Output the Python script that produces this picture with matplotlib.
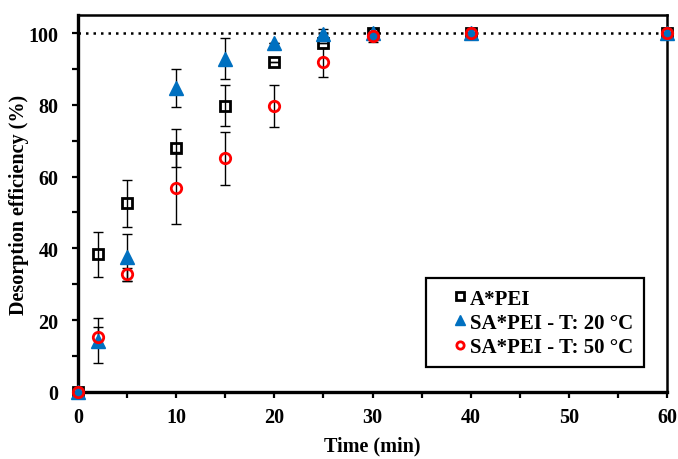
import numpy as np
import matplotlib
matplotlib.use('Agg')
from matplotlib import pyplot as plt
from matplotlib.ticker import MultipleLocator

time = [0, 2, 5, 10, 15, 20, 25, 30, 40, 60]

a_pei = [0, 38.3, 52.5, 68.0, 79.8, 91.8, 97.1, 100, 100, 100]
a_pei_err = [0, 6.2, 6.5, 5.3, 5.7, 0, 0, 0, 0, 0]

sa_20 = [0, 14.3, 37.5, 84.6, 92.9, 97.1, 99.6, 100, 100, 100]
sa_20_err = [0, 6.3, 6.5, 5.3, 5.7, 0, 1.5, 0, 0, 0]

sa_50 = [0, 15.4, 32.8, 56.9, 65.1, 79.6, 91.8, 99.3, 100, 100]
sa_50_err = [0, 2.6, 1.8, 10.0, 7.4, 5.8, 4.0, 1.8, 0, 0]

labels = ['A*PEI', 'SA*PEI - T: 20 °C', 'SA*PEI - T: 50 °C']

plt.rcParams['font.family'] = 'Liberation Serif'
plt.rcParams['font.weight'] = 'bold'
fs = 14.5

fig = plt.figure(figsize=(6.78, 4.60), dpi=100)
ax = fig.add_axes([0.115, 0.146, 0.869, 0.819])

ax.axhline(100, color='black', linestyle=(0, (1, 2)), linewidth=1.8, zorder=1)

for vals, errs in [(a_pei, a_pei_err), (sa_20, sa_20_err), (sa_50, sa_50_err)]:
    ax.errorbar(time, vals, yerr=errs, fmt='none', ecolor='black', elinewidth=1,
                capsize=3.5, capthick=1, zorder=2, clip_on=False)

ax.plot(time, a_pei, linestyle='none', marker='s', markersize=7.5, markerfacecolor='none',
        markeredgecolor='black', markeredgewidth=2, label=labels[0], zorder=3, clip_on=False)
ax.plot(time, sa_20, linestyle='none', marker='^', markersize=10, color='#0070C0',
        label=labels[1], zorder=4, clip_on=False)
ax.plot(time, sa_50, linestyle='none', marker='o', markersize=7.5, markerfacecolor='none',
        markeredgecolor='#FF0000', markeredgewidth=2, label=labels[2], zorder=5, clip_on=False)

ax.set_xlim(0, 60)
ax.set_ylim(0, 105)
ax.set_yticks([0, 20, 40, 60, 80, 100])
ax.set_xticks([0, 10, 20, 30, 40, 50, 60])
ax.xaxis.set_minor_locator(MultipleLocator(5))
ax.yaxis.set_minor_locator(MultipleLocator(10))
ax.tick_params(which='both', direction='out', length=4, width=1.6, labelsize=fs)
ax.tick_params(axis='x', pad=7)
ax.tick_params(axis='y', pad=10)

ax.spines['left'].set_linewidth(2.4)
ax.spines['bottom'].set_linewidth(2.4)
ax.spines['top'].set_linewidth(1.8)
ax.spines['right'].set_linewidth(1.8)

ax.set_xlabel('Time (min)', fontsize=fs, fontweight='bold', labelpad=6)
ax.set_ylabel('Desorption efficiency (%)', fontsize=fs, fontweight='bold', labelpad=0)

leg = ax.legend(loc='lower right', bbox_to_anchor=(0.96, 0.065), fontsize=15, fancybox=False,
                edgecolor='black', framealpha=1, markerscale=0.7, handlelength=2.2,
                handletextpad=-0.6, borderpad=0.5, labelspacing=0.2, borderaxespad=0)
leg.get_frame().set_linewidth(1.6)

fig.savefig('out.png', dpi=100)
